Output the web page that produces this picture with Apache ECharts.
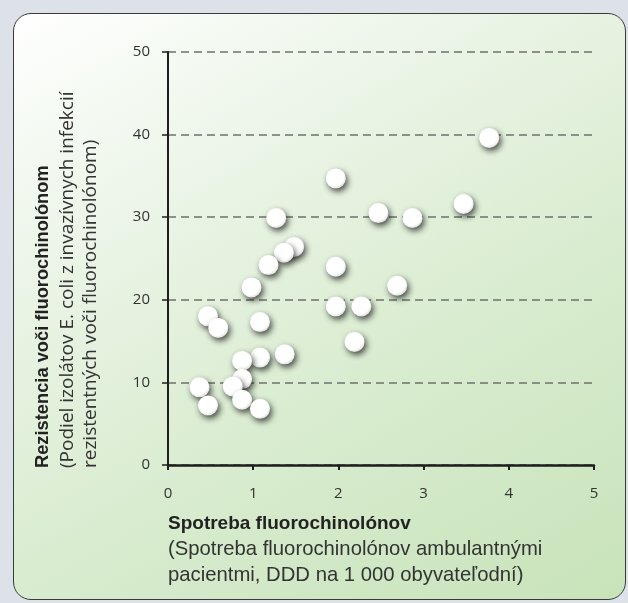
<!DOCTYPE html>
<html>
<head>
<meta charset="utf-8">
<script src="https://cdn.jsdelivr.net/npm/echarts@6/dist/echarts.min.js"></script>
<style>
  html, body { margin: 0; padding: 0; background: #dde2e9; }
  #panel {
    position: absolute; left: 13px; top: 13px; width: 611px; height: 585px;
    border: 1.5px solid #3a3a3a; border-radius: 18px;
    background: linear-gradient(150deg, #ffffff 0%, #eef6ea 25%, #d9ecd0 60%, #c8e3ba 100%);
  }
  #chart { position: absolute; left: 0; top: 0; width: 628px; height: 603px; }
</style>
</head>
<body>
<div id="panel"></div>
<div id="chart"></div>
<script>
// Spotreba fluorochinolónov (x) vs. rezistencia (y, %)
const consumption = [3.77, 1.97, 3.47, 2.47, 2.87, 1.27, 1.48, 1.36, 1.18, 1.97, 2.69, 0.98,
                     1.97, 2.27, 0.47, 0.59, 1.08, 2.19, 1.37, 1.08, 0.87, 0.87, 0.76, 0.37, 0.87, 0.47, 1.08];
const resistance  = [39.6, 34.7, 31.6, 30.5, 29.9, 29.9, 26.4, 25.7, 24.2, 24.0, 21.7, 21.5,
                     19.2, 19.2, 18.0, 16.6, 17.3, 14.9, 13.4, 13.0, 12.6, 10.4, 9.5, 9.4, 7.9, 7.2, 6.8];
const xTicks = [0, 1, 2, 3, 4, 5];
const yTicks = [0, 10, 20, 30, 40, 50];

const points = consumption.map((x, i) => [x, resistance[i]]);
const chart = echarts.init(document.getElementById('chart'), null, { renderer: 'canvas' });
const tickFont = { fontFamily: 'Open Sans, sans-serif', fontSize: 15, color: '#333' };
chart.setOption({
  backgroundColor: 'transparent',
  animation: false,
  grid: { left: 168, right: 34, top: 52, bottom: 138 },
  xAxis: {
    type: 'value', min: 0, max: 5, interval: 1,
    axisLine: { show: true, lineStyle: { color: '#1e1e1e', width: 2.5 } },
    axisTick: { show: true, inside: false, length: 5, lineStyle: { color: '#1e1e1e', width: 2 } },
    axisLabel: Object.assign({ margin: 21, formatter: v => xTicks.includes(v) ? String(v) : '' }, tickFont),
    splitLine: { show: false }
  },
  yAxis: {
    type: 'value', min: 0, max: 50, interval: 10,
    axisLine: { show: true, lineStyle: { color: '#1e1e1e', width: 2 } },
    axisTick: { show: true, length: 6, lineStyle: { color: '#1e1e1e', width: 1.5 } },
    axisLabel: Object.assign({ margin: 18, formatter: v => yTicks.includes(v) ? String(v) : '' }, tickFont),
    splitLine: { show: true, lineStyle: { color: '#6e716c', width: 1.5, type: [8, 5] } }
  },
  graphic: [
    { type: 'text', rotation: Math.PI / 2, x: 43, y: 468,
      style: { text: 'Rezistencia voči fluorochinolónom', font: 'bold 18.3px "Liberation Sans", sans-serif', fill: '#222', textAlign: 'left', textVerticalAlign: 'middle' } },
    { type: 'text', rotation: Math.PI / 2, x: 68, y: 468,
      style: { text: '(Podiel izolátov E. coli z invazívnych infekcií', font: '19px "Open Sans", sans-serif', fill: '#333', textAlign: 'left', textVerticalAlign: 'middle' } },
    { type: 'text', rotation: Math.PI / 2, x: 91, y: 468,
      style: { text: 'rezistentných voči fluorochinolónom)', font: '19px "Open Sans", sans-serif', fill: '#333', textAlign: 'left', textVerticalAlign: 'middle' } },
    { type: 'text', x: 168, y: 524,
      style: { text: 'Spotreba fluorochinolónov', font: 'bold 19px "Liberation Sans", sans-serif', fill: '#222', textVerticalAlign: 'middle' } },
    { type: 'text', x: 168, y: 549,
      style: { text: '(Spotreba fluorochinolónov ambulantnými', font: '20.3px "Liberation Sans", sans-serif', fill: '#333', textVerticalAlign: 'middle' } },
    { type: 'text', x: 168, y: 575,
      style: { text: 'pacientmi, DDD na 1 000 obyvateľodní)', font: '20.3px "Liberation Sans", sans-serif', fill: '#333', textVerticalAlign: 'middle' } }
  ],
  series: [{
    type: 'scatter',
    data: points,
    symbol: 'circle',
    symbolSize: 20,
    itemStyle: {
      opacity: 1,
      color: new echarts.graphic.RadialGradient(0.4, 0.35, 0.7, [
        { offset: 0, color: '#ffffff' }, { offset: 0.75, color: '#ffffff' }, { offset: 1, color: '#d8d8d8' }
      ]),
      shadowColor: 'rgba(0,0,0,0.7)', shadowBlur: 6, shadowOffsetX: 2, shadowOffsetY: 3
    }
  }]
});
</script>
</body>
</html>
